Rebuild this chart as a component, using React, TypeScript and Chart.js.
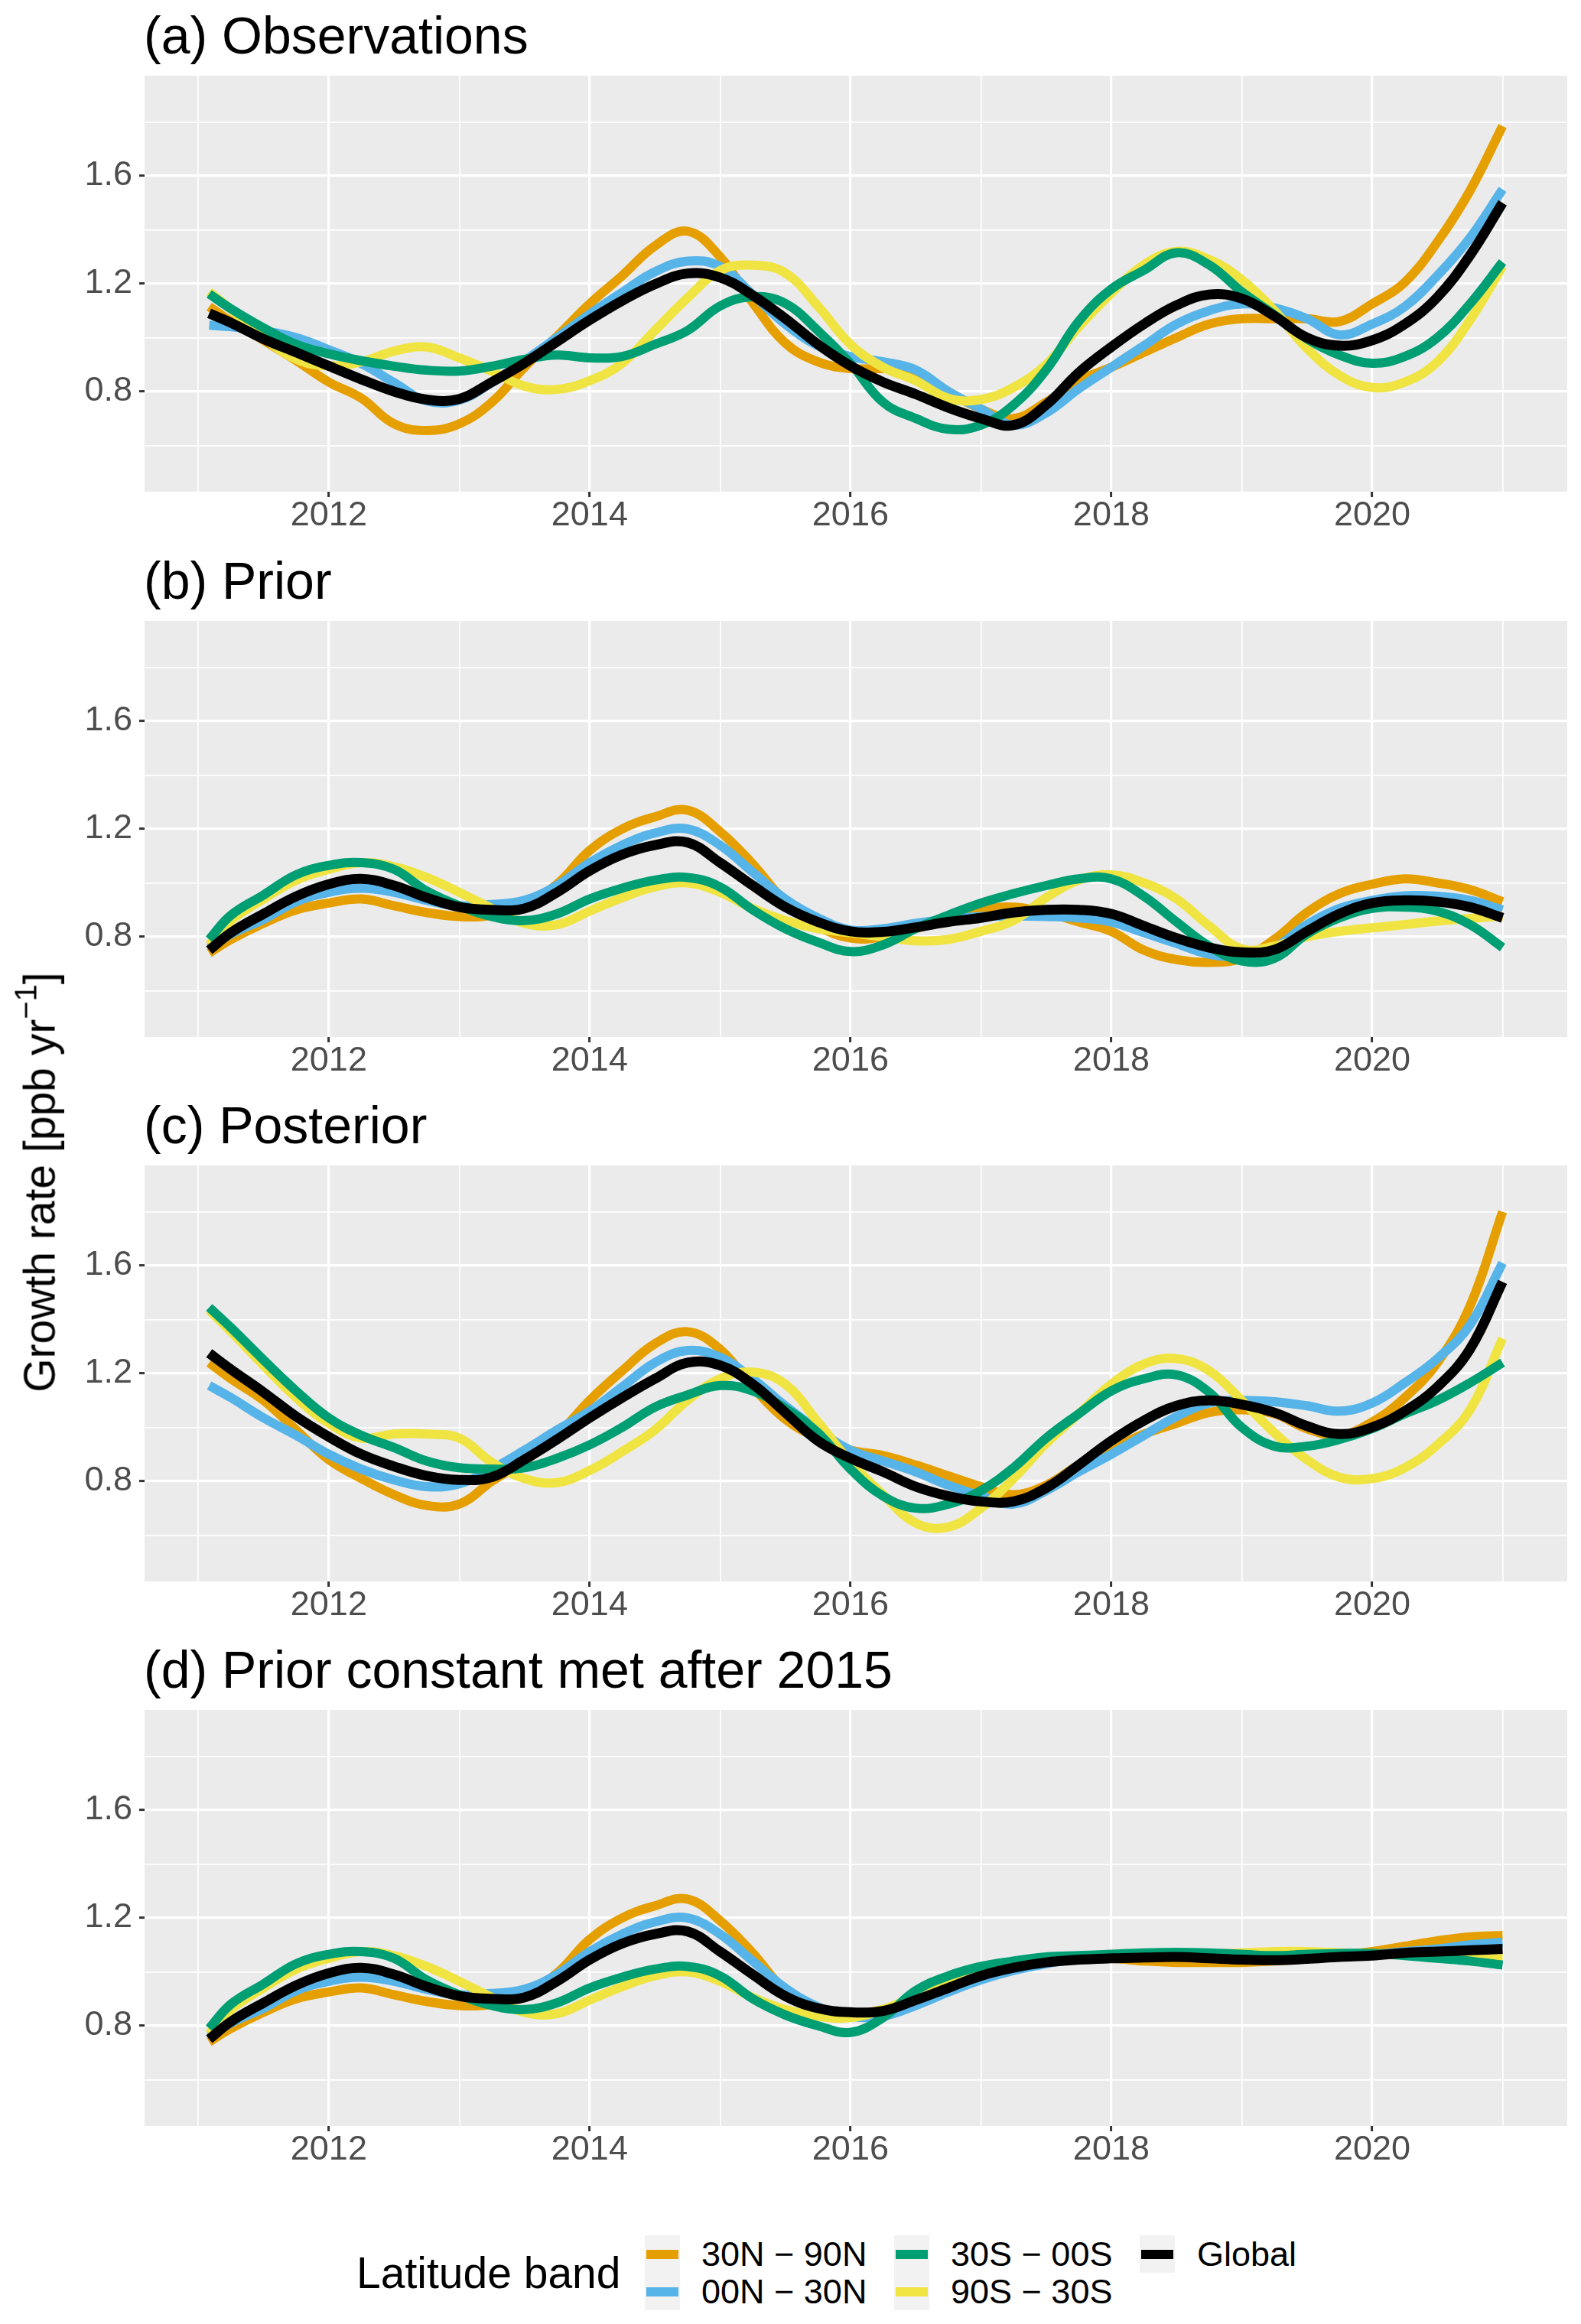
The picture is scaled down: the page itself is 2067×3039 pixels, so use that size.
import React, { useEffect, useRef } from 'react';
import { Chart, registerables } from 'chart.js';

Chart.register(...registerables);

const FONT = '"Liberation Sans", Arial, Helvetica, sans-serif';

// ---------- data ----------
const years = [2011.083, 2011.25, 2011.5, 2011.75, 2012, 2012.25, 2012.5, 2012.75, 2013, 2013.25, 2013.5, 2013.75, 2014, 2014.25, 2014.5, 2014.75, 2015, 2015.25, 2015.5, 2015.75, 2016, 2016.25, 2016.5, 2016.75, 2017, 2017.25, 2017.5, 2017.75, 2018, 2018.25, 2018.5, 2018.75, 2019, 2019.25, 2019.5, 2019.75, 2020, 2020.25, 2020.5, 2020.75, 2021];

// (a) Observations
const obsNH = [1.115, 1.06, 0.99, 0.915, 0.835, 0.775, 0.68, 0.655, 0.68, 0.76, 0.89, 1.005, 1.125, 1.23, 1.34, 1.395, 1.30, 1.13, 0.98, 0.91, 0.885, 0.885, 0.875, 0.80, 0.735, 0.70, 0.76, 0.84, 0.89, 0.945, 1.0, 1.05, 1.07, 1.07, 1.07, 1.06, 1.125, 1.205, 1.355, 1.545, 1.785];
const obsTropN = [1.046, 1.04, 1.025, 1.0, 0.955, 0.904, 0.833, 0.765, 0.768, 0.833, 0.914, 1.0, 1.087, 1.168, 1.244, 1.284, 1.264, 1.16, 1.05, 0.97, 0.93, 0.91, 0.88, 0.80, 0.735, 0.675, 0.72, 0.81, 0.89, 0.97, 1.05, 1.10, 1.125, 1.11, 1.07, 1.01, 1.05, 1.115, 1.23, 1.37, 1.55];
const obsTropS = [1.162, 1.107, 1.036, 0.975, 0.94, 0.914, 0.894, 0.879, 0.876, 0.894, 0.919, 0.935, 0.925, 0.93, 0.975, 1.026, 1.117, 1.152, 1.127, 1.026, 0.904, 0.76, 0.70, 0.66, 0.675, 0.75, 0.88, 1.06, 1.18, 1.25, 1.315, 1.27, 1.17, 1.085, 0.995, 0.935, 0.905, 0.93, 1.0, 1.125, 1.28];
const obsSH = [1.17, 1.105, 1.0, 0.92, 0.895, 0.91, 0.95, 0.965, 0.925, 0.875, 0.82, 0.808, 0.84, 0.905, 1.026, 1.147, 1.249, 1.269, 1.24, 1.117, 0.975, 0.89, 0.84, 0.775, 0.77, 0.815, 0.90, 1.04, 1.165, 1.27, 1.32, 1.29, 1.215, 1.10, 0.96, 0.86, 0.815, 0.835, 0.91, 1.065, 1.265];
const obsGlobal = [1.09, 1.055, 0.995, 0.945, 0.895, 0.845, 0.80, 0.77, 0.772, 0.835, 0.905, 0.985, 1.065, 1.137, 1.198, 1.238, 1.223, 1.157, 1.071, 0.975, 0.895, 0.835, 0.79, 0.74, 0.70, 0.675, 0.75, 0.87, 0.965, 1.05, 1.12, 1.16, 1.145, 1.08, 1.0, 0.97, 0.99, 1.05, 1.15, 1.305, 1.50];

// (b) Prior
const priorNH = [0.74, 0.79, 0.85, 0.90, 0.925, 0.94, 0.915, 0.89, 0.875, 0.88, 0.92, 0.995, 1.12, 1.20, 1.245, 1.27, 1.19, 1.07, 0.93, 0.84, 0.795, 0.80, 0.83, 0.87, 0.90, 0.91, 0.89, 0.855, 0.82, 0.75, 0.715, 0.705, 0.72, 0.79, 0.89, 0.96, 0.995, 1.015, 1.0, 0.975, 0.93];
const priorTropN = [0.76, 0.81, 0.865, 0.93, 0.965, 0.98, 0.965, 0.935, 0.915, 0.92, 0.935, 0.99, 1.075, 1.14, 1.185, 1.20, 1.14, 1.04, 0.94, 0.87, 0.825, 0.83, 0.85, 0.865, 0.875, 0.877, 0.875, 0.87, 0.855, 0.815, 0.775, 0.735, 0.73, 0.76, 0.845, 0.905, 0.935, 0.952, 0.95, 0.935, 0.90];
const priorTropS = [0.79, 0.88, 0.955, 1.03, 1.065, 1.075, 1.05, 0.97, 0.915, 0.875, 0.86, 0.885, 0.94, 0.98, 1.01, 1.02, 0.985, 0.90, 0.83, 0.78, 0.745, 0.77, 0.83, 0.88, 0.925, 0.96, 0.99, 1.015, 1.015, 0.95, 0.855, 0.765, 0.71, 0.72, 0.81, 0.87, 0.905, 0.91, 0.895, 0.845, 0.76];
const priorSH = [0.77, 0.86, 0.94, 1.01, 1.05, 1.075, 1.06, 1.02, 0.965, 0.905, 0.85, 0.845, 0.895, 0.945, 0.985, 1.0, 0.965, 0.905, 0.86, 0.83, 0.815, 0.80, 0.785, 0.79, 0.82, 0.86, 0.945, 1.01, 1.03, 1.0, 0.94, 0.84, 0.755, 0.765, 0.80, 0.82, 0.833, 0.845, 0.858, 0.868, 0.877];
const priorGlobal = [0.75, 0.815, 0.885, 0.95, 0.995, 1.015, 0.99, 0.945, 0.91, 0.90, 0.905, 0.965, 1.045, 1.105, 1.14, 1.15, 1.075, 0.99, 0.91, 0.855, 0.82, 0.818, 0.835, 0.855, 0.87, 0.89, 0.90, 0.90, 0.885, 0.84, 0.795, 0.76, 0.742, 0.752, 0.82, 0.885, 0.925, 0.935, 0.93, 0.91, 0.87];

// (c) Posterior
const postNH = [1.24, 1.18, 1.10, 0.99, 0.88, 0.81, 0.75, 0.71, 0.715, 0.80, 0.875, 0.97, 1.10, 1.21, 1.31, 1.355, 1.29, 1.15, 1.03, 0.96, 0.915, 0.895, 0.86, 0.82, 0.78, 0.75, 0.785, 0.86, 0.92, 0.975, 1.015, 1.055, 1.065, 1.05, 0.995, 0.97, 1.02, 1.11, 1.24, 1.45, 1.80];
const postTropN = [1.155, 1.11, 1.035, 0.97, 0.90, 0.845, 0.805, 0.78, 0.79, 0.845, 0.915, 0.99, 1.06, 1.15, 1.24, 1.285, 1.26, 1.18, 1.08, 0.99, 0.915, 0.875, 0.835, 0.785, 0.745, 0.715, 0.765, 0.835, 0.90, 0.97, 1.04, 1.09, 1.10, 1.095, 1.08, 1.06, 1.09, 1.165, 1.255, 1.38, 1.61];
const postTropS = [1.445, 1.37, 1.25, 1.135, 1.035, 0.97, 0.925, 0.875, 0.85, 0.845, 0.85, 0.885, 0.935, 1.0, 1.075, 1.12, 1.155, 1.135, 1.07, 0.98, 0.845, 0.745, 0.70, 0.715, 0.765, 0.85, 0.96, 1.05, 1.135, 1.18, 1.195, 1.13, 1.0, 0.93, 0.93, 0.955, 0.995, 1.05, 1.10, 1.165, 1.24];
const postSH = [1.435, 1.355, 1.23, 1.11, 1.015, 0.96, 0.975, 0.975, 0.96, 0.87, 0.81, 0.795, 0.84, 0.91, 0.99, 1.10, 1.18, 1.205, 1.16, 1.02, 0.87, 0.75, 0.645, 0.63, 0.70, 0.81, 0.94, 1.05, 1.16, 1.235, 1.255, 1.21, 1.10, 0.98, 0.88, 0.815, 0.81, 0.85, 0.935, 1.065, 1.33];
const postGlobal = [1.275, 1.215, 1.13, 1.04, 0.965, 0.90, 0.855, 0.82, 0.805, 0.815, 0.88, 0.955, 1.035, 1.11, 1.18, 1.24, 1.23, 1.16, 1.055, 0.95, 0.885, 0.835, 0.78, 0.745, 0.725, 0.725, 0.775, 0.86, 0.95, 1.025, 1.08, 1.10, 1.085, 1.055, 1.005, 0.975, 1.0, 1.06, 1.15, 1.29, 1.54];

// (d) Prior constant met after 2015
const constNH = [0.74, 0.79, 0.85, 0.90, 0.925, 0.94, 0.915, 0.89, 0.875, 0.88, 0.92, 0.995, 1.12, 1.20, 1.245, 1.27, 1.19, 1.07, 0.93, 0.86, 0.845, 0.86, 0.90, 0.945, 0.99, 1.02, 1.04, 1.05, 1.05, 1.04, 1.035, 1.035, 1.035, 1.04, 1.05, 1.06, 1.075, 1.095, 1.115, 1.13, 1.135];
const constTropN = [0.76, 0.81, 0.865, 0.93, 0.965, 0.98, 0.965, 0.935, 0.915, 0.92, 0.935, 0.99, 1.075, 1.14, 1.185, 1.20, 1.14, 1.04, 0.94, 0.87, 0.835, 0.835, 0.875, 0.925, 0.97, 1.005, 1.03, 1.05, 1.06, 1.062, 1.057, 1.052, 1.05, 1.05, 1.055, 1.06, 1.065, 1.075, 1.085, 1.10, 1.11];
const constTropS = [0.79, 0.88, 0.955, 1.03, 1.065, 1.075, 1.05, 0.97, 0.915, 0.875, 0.86, 0.885, 0.94, 0.98, 1.01, 1.02, 0.985, 0.90, 0.84, 0.80, 0.775, 0.83, 0.93, 0.985, 1.02, 1.04, 1.055, 1.06, 1.065, 1.07, 1.072, 1.07, 1.065, 1.06, 1.065, 1.068, 1.068, 1.06, 1.05, 1.04, 1.025];
const constSH = [0.77, 0.86, 0.94, 1.01, 1.05, 1.075, 1.06, 1.02, 0.965, 0.905, 0.85, 0.845, 0.895, 0.945, 0.985, 1.0, 0.965, 0.905, 0.86, 0.835, 0.83, 0.86, 0.91, 0.95, 0.99, 1.025, 1.045, 1.055, 1.06, 1.065, 1.065, 1.065, 1.07, 1.075, 1.075, 1.07, 1.065, 1.065, 1.06, 1.055, 1.048];
const constGlobal = [0.75, 0.815, 0.885, 0.95, 0.995, 1.015, 0.99, 0.945, 0.91, 0.90, 0.905, 0.965, 1.045, 1.105, 1.14, 1.15, 1.075, 0.99, 0.91, 0.865, 0.85, 0.855, 0.895, 0.94, 0.985, 1.015, 1.035, 1.045, 1.05, 1.053, 1.055, 1.05, 1.045, 1.043, 1.048, 1.055, 1.06, 1.07, 1.075, 1.08, 1.085];

const seriesLabels = ['30N \u2212 90N', '00N \u2212 30N', '30S \u2212 00S', '90S \u2212 30S', 'Global'];
const seriesColors = ['#E69F00', '#56B4E9', '#009E73', '#F0E442', '#000000'];

const panelTitles = ['(a) Observations', '(b) Prior', '(c) Posterior', '(d) Prior constant met after 2015'];

const xMajorTicks = [2012, 2014, 2016, 2018, 2020];
const xTickLabels = ['2012', '2014', '2016', '2018', '2020'];
const xMinorTicks = [2011, 2013, 2015, 2017, 2019, 2021];
const yMajorTicks = [0.8, 1.2, 1.6];
const yTickLabels = ['0.8', '1.2', '1.6'];
const yMinorTicks = [0.6, 1.0, 1.4, 1.8];

const legendTitle = 'Latitude band';
const yAxisTitle = 'Growth rate [ppb yr';
const yAxisTitleSup = '\u22121';

const panelSeries = [
  [obsNH, obsTropN, obsTropS, obsSH, obsGlobal],
  [priorNH, priorTropN, priorTropS, priorSH, priorGlobal],
  [postNH, postTropN, postTropS, postSH, postGlobal],
  [constNH, constTropN, constTropS, constSH, constGlobal],
];

// ---------- layout / style ----------
const W = 2067;
const H = 3039;
const PLOT_TOPS = [99, 812, 1524, 2236];
const PAD_TOP = 99;
const PLOT_H = 544;
const X_AXIS_H = 69;
const Y_AXIS_W = 189;
const PAD_RIGHT = 18;
const X_MIN = 2010.5875;
const X_MAX = 2021.4958;
const Y_MIN = 0.428;
const Y_MAX = 1.972;
const drawOrder = [4, 3, 1, 2, 0]; // lower = drawn on top
const lineWidths = [12, 12, 12, 12, 13];

const isIn = (list: number[], v: number) => list.some((t) => Math.abs(t - v) < 1e-6);
const labelFor = (ticks: number[], labels: string[], v: number) => {
  const i = ticks.findIndex((t) => Math.abs(t - v) < 1e-6);
  return i >= 0 ? labels[i] : '';
};

const bgPlugin = {
  id: 'panelBg',
  beforeDraw(chart: any) {
    const { ctx, chartArea: a } = chart;
    ctx.save();
    ctx.fillStyle = '#EBEBEB';
    ctx.fillRect(a.left, a.top, a.right - a.left, a.bottom - a.top);
    ctx.restore();
  },
};

const titlePlugin = {
  id: 'panelTitle',
  afterDraw(chart: any, _args: any, opts: any) {
    const { ctx, chartArea: a } = chart;
    ctx.save();
    ctx.font = `68px ${FONT}`;
    ctx.fillStyle = '#000000';
    ctx.textAlign = 'left';
    ctx.textBaseline = 'alphabetic';
    ctx.fillText(opts.text, a.left - 1, a.top - 29);
    ctx.restore();
  },
};

function Panel({ index }: { index: number }) {
  const ref = useRef<HTMLCanvasElement>(null);
  const canvasH = PAD_TOP + PLOT_H + X_AXIS_H;
  useEffect(() => {
    const series = panelSeries[index];
    const chart = new Chart(ref.current as HTMLCanvasElement, {
      type: 'line',
      data: {
        datasets: series.map((vals, si) => ({
          label: seriesLabels[si],
          data: years.map((x, j) => ({ x, y: vals[j] })),
          borderColor: seriesColors[si],
          backgroundColor: seriesColors[si],
          borderWidth: lineWidths[si],
          borderJoinStyle: 'round',
          borderCapStyle: 'butt',
          pointRadius: 0,
          pointHoverRadius: 0,
          tension: 0.4,
          fill: false,
          order: drawOrder[si],
        })),
      },
      options: {
        animation: false,
        responsive: false,
        devicePixelRatio: 1,
        events: [],
        layout: { padding: { top: PAD_TOP, right: PAD_RIGHT, left: 0, bottom: 0 } },
        plugins: {
          legend: { display: false },
          tooltip: { enabled: false },
          title: { display: false },
          panelTitle: { text: panelTitles[index] },
        } as any,
        scales: {
          x: {
            type: 'linear',
            min: X_MIN,
            max: X_MAX,
            afterBuildTicks: (s: any) => {
              s.ticks = [...xMinorTicks, ...xMajorTicks].sort((a, b) => a - b).map((v) => ({ value: v }));
            },
            afterFit: (s: any) => {
              s.height = X_AXIS_H;
            },
            border: { display: false },
            grid: {
              color: '#FFFFFF',
              lineWidth: (c: any) => (isIn(xMajorTicks, c.tick.value) ? 3.2 : 1.7),
              drawTicks: true,
              tickLength: 7,
              tickWidth: 3,
              tickColor: (c: any) => (isIn(xMajorTicks, c.tick.value) ? '#333333' : 'rgba(0,0,0,0)'),
            },
            ticks: {
              autoSkip: false,
              maxRotation: 0,
              minRotation: 0,
              padding: 2,
              color: '#4D4D4D',
              font: { family: FONT, size: 45, lineHeight: 1 },
              callback: (v: any) => labelFor(xMajorTicks, xTickLabels, Number(v)),
            },
          },
          y: {
            type: 'linear',
            min: Y_MIN,
            max: Y_MAX,
            afterBuildTicks: (s: any) => {
              s.ticks = [...yMinorTicks, ...yMajorTicks].sort((a, b) => a - b).map((v) => ({ value: v }));
            },
            afterFit: (s: any) => {
              s.width = Y_AXIS_W;
            },
            border: { display: false },
            grid: {
              color: '#FFFFFF',
              lineWidth: (c: any) => (isIn(yMajorTicks, c.tick.value) ? 3.2 : 1.7),
              drawTicks: true,
              tickLength: 7,
              tickWidth: 3,
              tickColor: (c: any) => (isIn(yMajorTicks, c.tick.value) ? '#333333' : 'rgba(0,0,0,0)'),
            },
            ticks: {
              autoSkip: false,
              padding: 9,
              color: '#4D4D4D',
              font: { family: FONT, size: 45, lineHeight: 1 },
              callback: (v: any) => labelFor(yMajorTicks, yTickLabels, Number(v)),
            },
          },
        },
      },
      plugins: [bgPlugin, titlePlugin],
    } as any);
    return () => chart.destroy();
  }, [index]);
  return (
    <canvas
      ref={ref}
      width={W}
      height={canvasH}
      style={{ position: 'absolute', left: 0, top: PLOT_TOPS[index] - PAD_TOP, width: W, height: canvasH }}
    />
  );
}

const legendCols = [[0, 1], [2, 3], [4]];
const keyX = [843, 1169, 1490];
const labelX = [917, 1243, 1565];
const rowTop = [2923, 2972];

export default function App() {
  return (
    <div
      style={{
        position: 'absolute',
        left: 0,
        top: 0,
        width: W,
        height: H,
        overflow: 'hidden',
        background: '#FFFFFF',
        fontFamily: FONT,
      }}
    >
      {panelTitles.map((_, i) => (
        <Panel key={i} index={i} />
      ))}
      <div
        style={{
          position: 'absolute',
          left: 52,
          top: 1546,
          transform: 'translate(-50%, -50%) rotate(-90deg)',
          whiteSpace: 'nowrap',
          fontSize: 57,
          lineHeight: 1,
          color: '#000000',
        }}
      >
        {yAxisTitle}
        <span style={{ fontSize: 40, position: 'relative', top: -24 }}>{yAxisTitleSup}</span>]
      </div>
      <div
        style={{
          position: 'absolute',
          left: 466,
          top: 2923,
          height: 99,
          lineHeight: '99px',
          fontSize: 57,
          whiteSpace: 'nowrap',
          color: '#000000',
        }}
      >
        {legendTitle}
      </div>
      {legendCols.map((col, ci) =>
        col.map((si, ri) => (
          <React.Fragment key={si}>
            <div
              style={{
                position: 'absolute',
                left: keyX[ci],
                top: rowTop[ri],
                width: 46,
                height: 49,
                background: '#F2F2F2',
              }}
            >
              <div
                style={{
                  position: 'absolute',
                  left: 2,
                  right: 2,
                  top: 18.5,
                  height: 12,
                  background: seriesColors[si],
                }}
              />
            </div>
            <div
              style={{
                position: 'absolute',
                left: labelX[ci],
                top: rowTop[ri],
                height: 49,
                lineHeight: '49px',
                fontSize: 45,
                whiteSpace: 'nowrap',
                color: '#000000',
              }}
            >
              {seriesLabels[si]}
            </div>
          </React.Fragment>
        ))
      )}
    </div>
  );
}
